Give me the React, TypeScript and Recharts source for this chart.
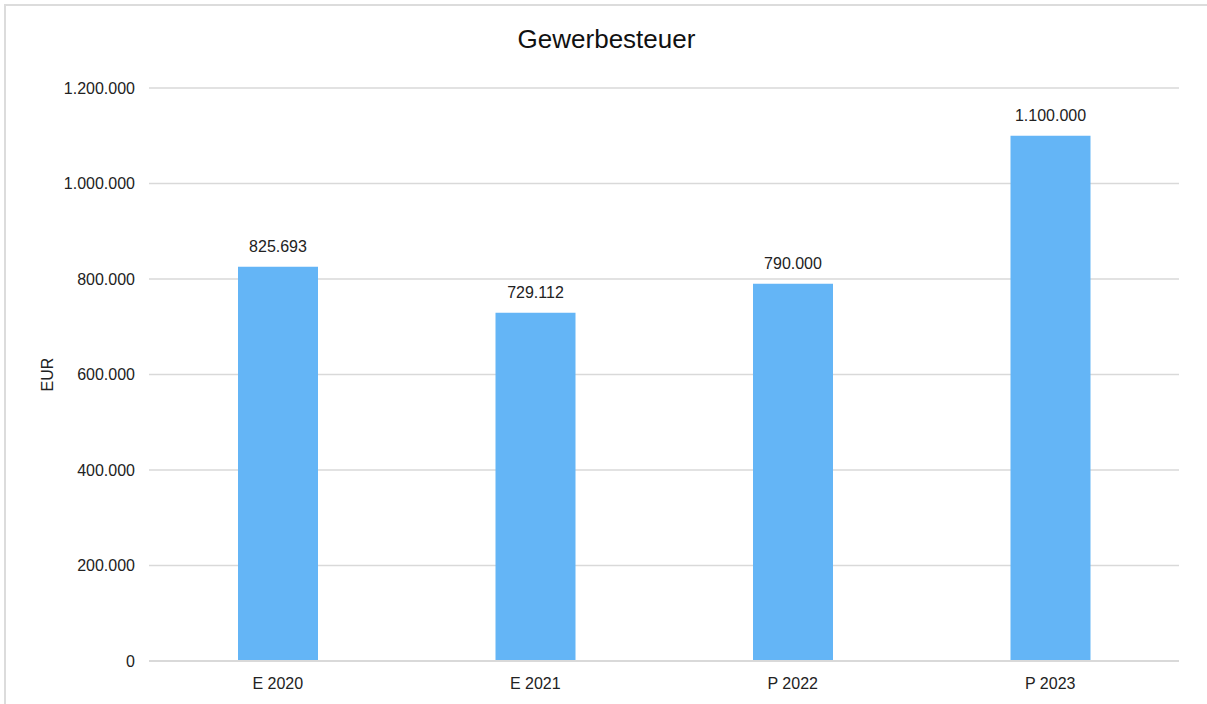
import { BarChart, Bar, XAxis, YAxis, CartesianGrid, LabelList } from 'recharts';

const categories = ['E 2020', 'E 2021', 'P 2022', 'P 2023'];
const values = [825693, 729112, 790000, 1100000];
const yTicks = [0, 200000, 400000, 600000, 800000, 1000000, 1200000];

const data = categories.map((name, i) => ({ name, value: values[i] }));

// German thousands separators: 1200000 -> 1.200.000
const fmt = (v: number) => String(v).replace(/\B(?=(\d{3})+(?!\d))/g, '.');

const font = '"Liberation Sans", Arial, sans-serif';

export default function App() {
  return (
    <div
      style={{
        position: 'absolute',
        left: 4,
        top: 4,
        width: 1203,
        height: 700,
        borderTop: '2px solid #dcdcdc',
        borderLeft: '2px solid #dcdcdc',
        boxSizing: 'border-box',
        background: '#fff',
        fontFamily: font,
        overflow: 'hidden',
      }}
    >
      <div
        style={{
          position: 'absolute',
          left: 0,
          right: 0,
          top: 18,
          textAlign: 'center',
          fontSize: 26,
          color: '#111',
        }}
      >
        Gewerbesteuer
      </div>
      <div style={{ position: 'absolute', left: -3, top: -2 }}>
        <BarChart
          width={1203}
          height={700}
          data={data}
          margin={{ top: 84, right: 27, bottom: 13, left: 30 }}
        >
          <CartesianGrid vertical={false} stroke="#d9d9d9" strokeWidth={1.5} />
          <XAxis
            dataKey="name"
            height={30}
            axisLine={{ stroke: '#d9d9d9', strokeWidth: 2 }}
            tickLine={false}
            tickSize={0}
            tickMargin={17}
            tick={{ fill: '#222', fontSize: 16, fontFamily: font }}
          />
          <YAxis
            width={116}
            domain={[0, 1200000]}
            ticks={yTicks}
            interval={0}
            axisLine={false}
            tickLine={false}
            tickSize={0}
            tickMargin={14}
            tickFormatter={fmt}
            tick={{ fill: '#222', fontSize: 16, fontFamily: font }}
            label={{
              value: 'EUR',
              angle: -90,
              position: 'insideLeft',
              offset: 14,
              style: { textAnchor: 'middle', fill: '#222', fontSize: 16, fontFamily: font },
            }}
          />
          <Bar dataKey="value" fill="#64b5f6" barSize={80} isAnimationActive={false}>
            <LabelList
              dataKey="value"
              position="top"
              offset={15}
              formatter={(v: any) => fmt(Number(v))}
              style={{ fill: '#222', fontSize: 16, fontFamily: font }}
            />
          </Bar>
        </BarChart>
      </div>
    </div>
  );
}
